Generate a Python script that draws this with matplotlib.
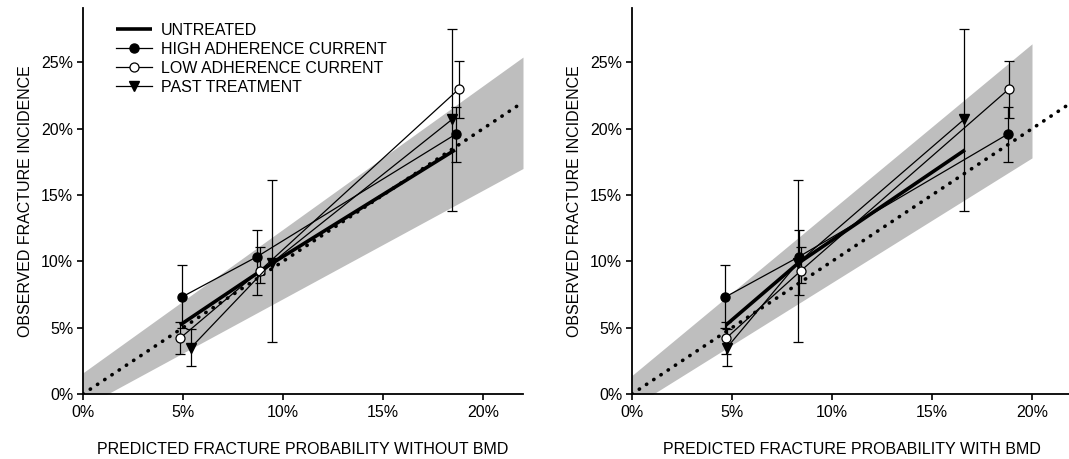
import numpy as np
import matplotlib
matplotlib.use('Agg')
import matplotlib.pyplot as plt
from matplotlib.ticker import PercentFormatter

plt.rcParams['font.family'] = ['Liberation Sans', 'DejaVu Sans']
plt.rcParams['font.size'] = 11.5

# observed incidence (%), same for both panels
obs_untreated = [5.2, 9.85, 18.4]
obs_high = [7.3, 10.35, 19.6]
obs_low = [4.2, 9.3, 23.0]
obs_past = [3.5, 9.9, 20.7]

# 95% CI of observed incidence (lower, upper)
ci_high_lo = [5.0, 7.5, 17.5]
ci_high_hi = [9.7, 12.4, 21.6]
ci_low_lo = [3.0, 8.4, 20.8]
ci_low_hi = [5.4, 11.1, 25.1]
ci_past_lo = [2.1, 3.9, 13.8]
ci_past_hi = [4.9, 16.1, 27.5]

# predicted probability (%) without BMD
pred_nobmd_untreated = [4.85, 9.45, 18.6]
pred_nobmd_high = [4.93, 8.7, 18.65]
pred_nobmd_low = [4.85, 8.85, 18.8]
pred_nobmd_past = [5.4, 9.45, 18.45]

# predicted probability (%) with BMD
pred_bmd_untreated = [4.7, 8.3, 16.65]
pred_bmd_high = [4.65, 8.35, 18.8]
pred_bmd_low = [4.7, 8.45, 18.85]
pred_bmd_past = [4.75, 8.3, 16.6]

# confidence band around the calibration line
band_x_nobmd = [0, 22]
band_hi_nobmd = [1.6, 25.4]
band_lo_nobmd = [-1.0, 17.0]
band_x_bmd = [0, 20]
band_hi_bmd = [1.4, 26.4]
band_lo_bmd = [-1.0, 17.8]

x_ticks = [0, 5, 10, 15, 20]
y_ticks = [0, 5, 10, 15, 20, 25]

fig = plt.figure(figsize=(10.69, 4.59), dpi=100)
ax1 = fig.add_axes([83 / 1069, 65 / 459, 440 / 1069, 386 / 459])
ax2 = fig.add_axes([632 / 1069, 65 / 459, 440 / 1069, 386 / 459])


def draw_panel(ax, band_x, band_lo, band_hi, x_unt, x_high, x_low, x_past, xlabel):
    ax.fill_between(band_x, band_lo, band_hi, color='#bebebe', lw=0, zorder=1)
    ax.axline((0, 0), slope=1, color='black', lw=2.6, linestyle=(0, (0.1, 2.3)),
              dash_capstyle='round', zorder=2)

    groups = [
        (x_high, obs_high, ci_high_lo, ci_high_hi),
        (x_low, obs_low, ci_low_lo, ci_low_hi),
        (x_past, obs_past, ci_past_lo, ci_past_hi),
    ]
    for xs, ys, lo, hi in groups:
        ys = np.array(ys)
        yerr = [ys - np.array(lo), np.array(hi) - ys]
        ax.errorbar(xs, ys, yerr=yerr, fmt='none', ecolor='black', elinewidth=0.9,
                    capsize=3.5, capthick=0.9, zorder=3)

    ax.plot(x_unt, obs_untreated, color='black', lw=2.6, solid_capstyle='butt',
            zorder=4, label='UNTREATED')
    ax.plot(x_high, obs_high, color='black', lw=0.9, marker='o', ms=6.5,
            mfc='black', mec='black', zorder=5, label='HIGH ADHERENCE CURRENT')
    ax.plot(x_low, obs_low, color='black', lw=0.9, marker='o', ms=6.5,
            mfc='white', mec='black', mew=0.9, zorder=5, label='LOW ADHERENCE CURRENT')
    ax.plot(x_past, obs_past, color='black', lw=0.9, marker='v', ms=7.5,
            mfc='black', mec='black', zorder=5, label='PAST TREATMENT')

    ax.set_xlim(0, 22)
    ax.set_ylim(0, 29.1)
    ax.set_xticks(x_ticks)
    ax.set_yticks(y_ticks)
    ax.xaxis.set_major_formatter(PercentFormatter(decimals=0))
    ax.yaxis.set_major_formatter(PercentFormatter(decimals=0))
    for side in ['top', 'right']:
        ax.spines[side].set_visible(False)
    for side in ['left', 'bottom']:
        ax.spines[side].set_linewidth(1.3)
    ax.tick_params(direction='out', length=4, width=1.2, pad=3, labelsize=11.5)
    ax.tick_params(axis='x', pad=4)
    ax.set_xlabel(xlabel, fontsize=11.5, labelpad=16)
    ax.set_ylabel('OBSERVED FRACTURE INCIDENCE', fontsize=11.5, labelpad=6)


draw_panel(ax1, band_x_nobmd, band_lo_nobmd, band_hi_nobmd,
           pred_nobmd_untreated, pred_nobmd_high, pred_nobmd_low, pred_nobmd_past,
           'PREDICTED FRACTURE PROBABILITY WITHOUT BMD')
draw_panel(ax2, band_x_bmd, band_lo_bmd, band_hi_bmd,
           pred_bmd_untreated, pred_bmd_high, pred_bmd_low, pred_bmd_past,
           'PREDICTED FRACTURE PROBABILITY WITH BMD')

ax1.legend(loc='upper left', bbox_to_anchor=(0.076, 0.962), frameon=False,
           borderpad=0, borderaxespad=0, handlelength=2.2, handletextpad=0.6,
           labelspacing=0.25, fontsize=11.5)

fig.savefig('out.png', dpi=100)
